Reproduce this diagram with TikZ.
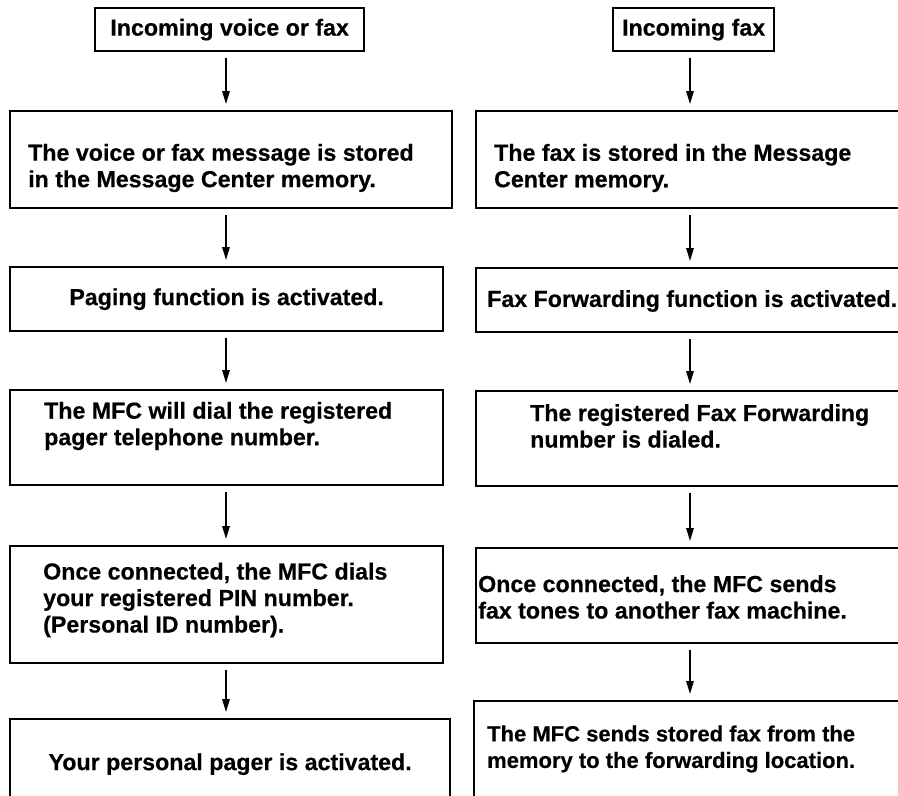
\documentclass[tikz,border=0pt]{standalone}
\usepackage{fontspec}
\setmainfont[BoldFeatures={FakeBold=0.4}]{Liberation Sans}
\usetikzlibrary{arrows.meta}
\begin{document}
\begin{tikzpicture}[x=1pt,y=-1pt,
  stepbox/.style={draw, line width=2.3pt, rectangle, inner sep=0pt, anchor=north west,
                  font=\bfseries\fontsize{23.2}{26}\selectfont},
  steptext/.style={inner sep=0pt, align=left, anchor=west,
                   font=\bfseries\fontsize{23.2}{26.5}\selectfont},
  flow/.style={line width=1.5pt, -{Triangle[length=13pt,width=7.5pt]},
               shorten <=6pt, shorten >=6pt}]
\useasboundingbox (0,0) rectangle (898,796);
\clip (0,0) rectangle (898,796);

% arrow columns
\coordinate (lx) at (226,0);
\coordinate (rx) at (690,0);

% ---- left column: voice or fax ----
\node[stepbox, minimum width=269pt, minimum height=43pt] (l0) at (94,7) {Incoming voice or fax};
\node[stepbox, minimum width=442pt, minimum height=97pt] (l1) at (9,110) {};
\node[steptext] (l1t) at (28,168) {The voice or fax message is stored\\in the Message Center memory.};
\node[stepbox, minimum width=433pt, minimum height=64pt] (l2) at (9,266) {Paging function is activated.};
\node[stepbox, minimum width=433pt, minimum height=95pt] (l3) at (9,389) {};
\node[steptext] (l3t) at (44,426) {The MFC will dial the registered\\pager telephone number.};
\node[stepbox, minimum width=433pt, minimum height=117pt] (l4) at (9,545) {};
\node[steptext] (l4t) at (43,600) {Once connected, the MFC dials\\your registered PIN number.\\(Personal ID number).};
\node[stepbox, minimum width=440pt, minimum height=90pt] (l5) at (9,718) {Your personal pager is activated.};

\draw[flow] (l0.south -| lx) -- (l1.north -| lx);
\draw[flow] (l1.south -| lx) -- (l2.north -| lx);
\draw[flow] (l2.south -| lx) -- (l3.north -| lx);
\draw[flow] (l3.south -| lx) -- (l4.north -| lx);
\draw[flow] (l4.south -| lx) -- (l5.north -| lx);

% ---- right column: fax forwarding ----
\node[stepbox, minimum width=161pt, minimum height=43pt] (r0) at (612,7) {Incoming fax};
\node[stepbox, minimum width=430pt, minimum height=97pt] (r1) at (475,110) {};
\node[steptext] (r1t) at (494,168) {The fax is stored in the Message\\Center memory.};
\node[stepbox, minimum width=430pt, minimum height=64pt] (r2) at (475,267) {};
\node[steptext] (r2t) at (487,301) {Fax Forwarding function is activated.};
\node[stepbox, minimum width=430pt, minimum height=95pt] (r3) at (475,390) {};
\node[steptext] (r3t) at (530,426) {The registered Fax Forwarding\\number is dialed.};
\node[stepbox, minimum width=430pt, minimum height=95pt] (r4) at (475,547) {};
\node[steptext] (r4t) at (478,597) {Once connected, the MFC sends\\fax tones to another fax machine.};
\node[stepbox, minimum width=432pt, minimum height=110pt] (r5) at (473,700) {};
\node[steptext, font=\bfseries\fontsize{22}{26.5}\selectfont] (r5t) at (487,749) {The MFC sends stored fax from the\\memory to the forwarding location.};

\draw[flow] (r0.south -| rx) -- (r1.north -| rx);
\draw[flow] (r1.south -| rx) -- (r2.north -| rx);
\draw[flow] (r2.south -| rx) -- (r3.north -| rx);
\draw[flow] (r3.south -| rx) -- (r4.north -| rx);
\draw[flow] (r4.south -| rx) -- (r5.north -| rx);
\end{tikzpicture}
\end{document}
